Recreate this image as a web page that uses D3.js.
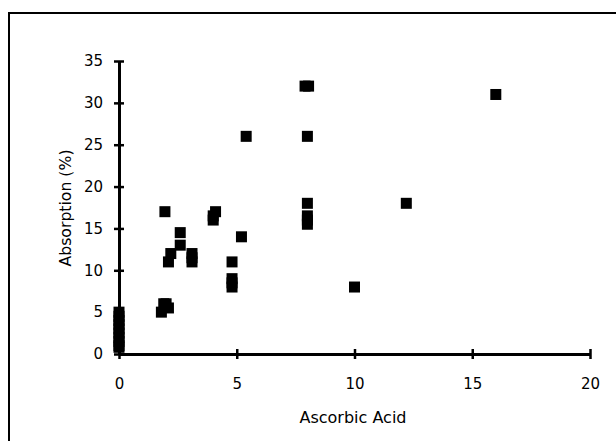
<!DOCTYPE html>
<html><head><meta charset="utf-8">
<script src="https://cdn.jsdelivr.net/npm/d3@7"></script>
<style>body{margin:0;background:#fff}svg{display:block}</style>
</head><body>
<script>
const ascorbic   = [0,0,0,0,0,0,0,0,0,0, 1.8,1.9,2.0,2.1, 1.95, 2.1,2.2, 2.6,2.6, 3.1,3.1,3.1, 4.0,4.0,4.1, 4.8,4.8,4.8,4.8, 5.2,5.4, 7.9,8.05,8,8,8,8,8, 10,12.2,16];
const absorption = [1,1.5,2,2.5,3,3.5,4,4.5,5,0.8, 5,6,6,5.5, 17, 11,12, 14.5,13, 12,11.5,11, 16,16.5,17, 11,9,8.5,8, 14,26, 32,32,26,18,16.5,16,15.5, 8,18,31];
const xTicks = [0,5,10,15,20];
const yTicks = [0,5,10,15,20,25,30,35];

const W=616,H=441;
const svg=d3.select("body").append("svg").attr("width",W).attr("height",H);
svg.append("rect").attr("x",9).attr("y",13).attr("width",620).attr("height",440)
  .attr("fill","none").attr("stroke","#000").attr("stroke-width",2);

const x=d3.scaleLinear().domain([0,20]).range([119,590]);
const y=d3.scaleLinear().domain([0,35]).range([354,61]);
const font="'DejaVu Sans', sans-serif";

const xa=svg.append("g").attr("transform","translate(0,354)")
  .call(d3.axisBottom(x).tickValues(xTicks).tickSizeInner(0).tickSizeOuter(0).tickPadding(24));
xa.select(".domain").attr("stroke-width",3);
xa.selectAll(".tick line").attr("y1",-5).attr("y2",5).attr("stroke-width",2.5);
xa.selectAll("text").attr("font-family",font).attr("font-size",15).attr("fill","#000");

const ya=svg.append("g").attr("transform","translate(119,0)")
  .call(d3.axisLeft(y).tickValues(yTicks).tickSizeInner(0).tickSizeOuter(0).tickPadding(16));
ya.select(".domain").attr("stroke-width",3);
ya.selectAll(".tick line").attr("x1",-5).attr("x2",5).attr("stroke-width",2.5);
ya.selectAll("text").attr("font-family",font).attr("font-size",15).attr("fill","#000");

const s=11;
svg.append("g").selectAll("rect").data(ascorbic.map((a,i)=>[a,absorption[i]])).join("rect")
  .attr("x",d=>x(d[0])-s/2).attr("y",d=>y(d[1])-s/2).attr("width",s).attr("height",s).attr("fill","#000");

svg.append("text").attr("x",353).attr("y",423).attr("text-anchor","middle")
  .attr("font-family",font).attr("font-size",16).text("Ascorbic Acid");
svg.append("text").attr("transform","translate(71,208) rotate(-90)").attr("text-anchor","middle")
  .attr("font-family",font).attr("font-size",15.7).text("Absorption (%)");
</script>
</body></html>
